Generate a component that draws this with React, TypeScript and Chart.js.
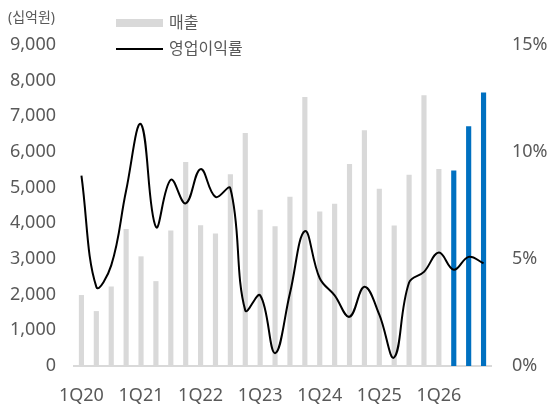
import { useEffect, useRef } from "react"
import { Chart, registerables } from "chart.js"

Chart.register(...registerables)

const quarters = [
  "1Q20", "2Q20", "3Q20", "4Q20",
  "1Q21", "2Q21", "3Q21", "4Q21",
  "1Q22", "2Q22", "3Q22", "4Q22",
  "1Q23", "2Q23", "3Q23", "4Q23",
  "1Q24", "2Q24", "3Q24", "4Q24",
  "1Q25", "2Q25", "3Q25", "4Q25",
  "1Q26", "2Q26", "3Q26", "4Q26",
]

// 매출 (십억원)
const sales = [
  1980, 1530, 2220, 3835,
  3065, 2370, 3790, 5710,
  3935, 3705, 5370, 6525,
  4375, 3910, 4735, 7530,
  4320, 4540, 5655, 6600,
  4960, 3930, 5350, 7580,
  5515, 5470, 6710, 7660,
]

// 영업이익률 (%)
const margin = [
  8.9, 3.7, 4.7, 8.2,
  11.3, 6.5, 8.7, 7.6,
  9.2, 7.9, 8.3, 2.6,
  3.3, 0.6, 3.4, 6.3,
  4.1, 3.3, 2.3, 3.7,
  2.4, 0.4, 3.9, 4.4,
  5.3, 4.5, 5.1, 4.8,
]

// last three quarters are forecasts (blue)
const forecastFrom = 25

const salesTicks = [0, 1000, 2000, 3000, 4000, 5000, 6000, 7000, 8000, 9000]
const marginTicks = [0, 5, 10, 15]

const GRAY = "#d9d9d9"
const BLUE = "#0070c0"
const TEXT = "#595959"
const FONT = "'Noto Sans', 'Noto Sans CJK KR', sans-serif"

export default function App() {
  const canvasRef = useRef<HTMLCanvasElement>(null)
  const chartRef = useRef<Chart | null>(null)

  useEffect(() => {
    if (!canvasRef.current) return
    const ctx = canvasRef.current.getContext("2d")
    if (!ctx) return

    chartRef.current = new Chart(ctx, {
      type: "bar",
      data: {
        labels: quarters,
        datasets: [
          {
            type: "line",
            label: "영업이익률",
            data: margin,
            yAxisID: "y1",
            borderColor: "#000000",
            borderWidth: 2,
            pointRadius: 0,
            tension: 0.4,
            order: 0,
          },
          {
            type: "bar",
            label: "매출",
            data: sales,
            yAxisID: "y",
            backgroundColor: sales.map((_, i) => (i >= forecastFrom ? BLUE : GRAY)),
            barThickness: 4.5,
            order: 1,
          },
        ],
      },
      options: {
        animation: false,
        responsive: false,
        layout: { padding: { top: 45, left: 0, right: 0, bottom: 0 } },
        plugins: {
          legend: { display: false },
          tooltip: { enabled: false },
        },
        scales: {
          x: {
            offset: true,
            grid: { display: false, drawTicks: false },
            border: { display: true, color: GRAY, width: 2 },
            afterFit: (scale) => {
              scale.height = 41
            },
            ticks: {
              autoSkip: false,
              maxRotation: 0,
              padding: 19,
              color: TEXT,
              font: { family: FONT, size: 18 },
              callback: (_v, i) => (i % 4 === 0 ? quarters[i] : ""),
            },
          },
          y: {
            position: "left",
            min: 0,
            max: 9000,
            grid: { display: false, drawTicks: false },
            border: { display: false },
            afterFit: (scale) => {
              scale.width = 74
            },
            afterBuildTicks: (scale) => {
              scale.ticks = salesTicks.map((v) => ({ value: v }))
            },
            ticks: {
              padding: 18,
              color: TEXT,
              font: { family: FONT, size: 18 },
              callback: (v) => Number(v).toLocaleString("en-US"),
            },
          },
          y1: {
            position: "right",
            min: 0,
            max: 15,
            grid: { display: false, drawTicks: false },
            border: { display: false },
            afterFit: (scale) => {
              scale.width = 61
            },
            afterBuildTicks: (scale) => {
              scale.ticks = marginTicks.map((v) => ({ value: v }))
            },
            ticks: {
              padding: 21,
              color: TEXT,
              font: { family: FONT, size: 18 },
              callback: (v) => `${v}%`,
            },
          },
        },
      },
    })

    return () => {
      chartRef.current?.destroy()
      chartRef.current = null
    }
  }, [])

  return (
    <div
      style={{
        position: "absolute",
        left: 0,
        top: 0,
        width: 552,
        height: 407,
        background: "#ffffff",
        fontFamily: FONT,
        color: TEXT,
      }}
    >
      <canvas ref={canvasRef} width={552} height={407} style={{ display: "block" }} />
      <div style={{ position: "absolute", left: 8, top: 6, fontSize: 14 }}>(십억원)</div>
      <div style={{ position: "absolute", left: 116, top: 19, width: 47, height: 8, background: GRAY }} />
      <div style={{ position: "absolute", left: 169, top: 12, fontSize: 16, lineHeight: "20px" }}>매출</div>
      <div style={{ position: "absolute", left: 116, top: 48, width: 47, height: 2, background: "#000000" }} />
      <div style={{ position: "absolute", left: 169, top: 38, fontSize: 16, lineHeight: "20px" }}>영업이익률</div>
    </div>
  )
}
